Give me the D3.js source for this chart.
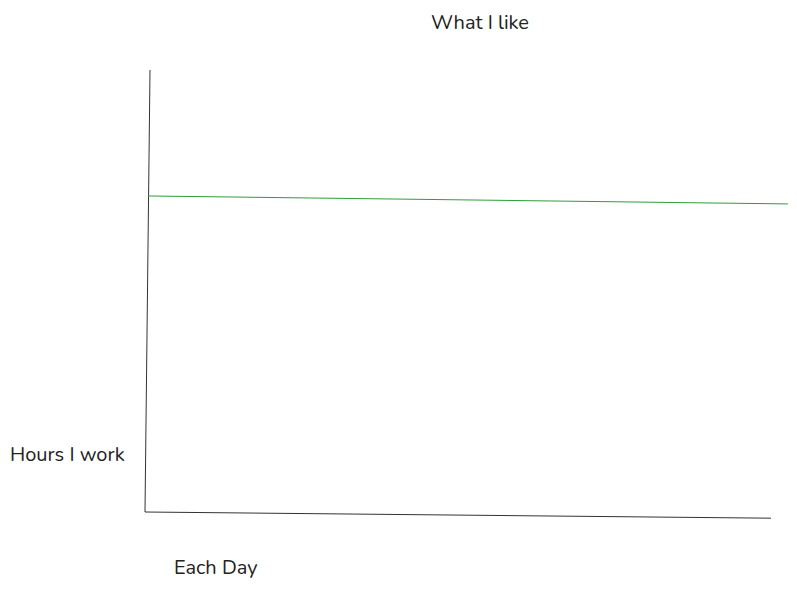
<!DOCTYPE html>
<html>
<head>
<meta charset="utf-8">
<script src="https://cdn.jsdelivr.net/npm/d3@7"></script>
<style>
  body { margin: 0; background: #fff; }
  svg { display: block; }
</style>
</head>
<body>
<div id="main"></div>
<script>
const width = 797, height = 590;

// green line: what I like (hours per day)
const likeDays = [0.05, 10.27];
const likeHours = [7.15, 6.97];

// hand-drawn axes, in data units
const yAxisDays = [0.08, 0];
const yAxisHours = [10, 0];
const xAxisDays = [0, 10];
const xAxisHours = [0, -0.14];

const titleText = "What I like";
const yLabel = "Hours I work";
const xLabel = "Each Day";

let svg = d3.select("#main").append("svg")
    .attr("width", width)
    .attr("height", height)
    .style("font-family", "Nunito, Lato, 'Open Sans', sans-serif");

const x = d3.scaleLinear().domain([0, 10]).range([145, 771]);
const y = d3.scaleLinear().domain([0, 10]).range([512, 70]);

const line = d3.line()
    .x(d => x(d[0]))
    .y(d => y(d[1]));

svg.append("path")
    .datum(d3.zip(yAxisDays, yAxisHours).concat(d3.zip(xAxisDays, xAxisHours).slice(1)))
    .attr("fill", "none")
    .attr("stroke", "#333")
    .attr("stroke-width", 1)
    .attr("d", line);

svg.append("path")
    .datum(d3.zip(likeDays, likeHours))
    .attr("fill", "none")
    .attr("stroke", "#2e9e3a")
    .attr("stroke-width", 1)
    .attr("d", line);

svg.append("text")
    .attr("x", 480)
    .attr("y", 29)
    .attr("text-anchor", "middle")
    .attr("font-size", 20)
    .attr("fill", "#222")
    .text(titleText);

svg.append("text")
    .attr("x", 10)
    .attr("y", 461)
    .attr("font-size", 20)
    .attr("fill", "#222")
    .text(yLabel);

svg.append("text")
    .attr("x", 174)
    .attr("y", 574)
    .attr("font-size", 20)
    .attr("fill", "#222")
    .text(xLabel);
</script>
</body>
</html>
